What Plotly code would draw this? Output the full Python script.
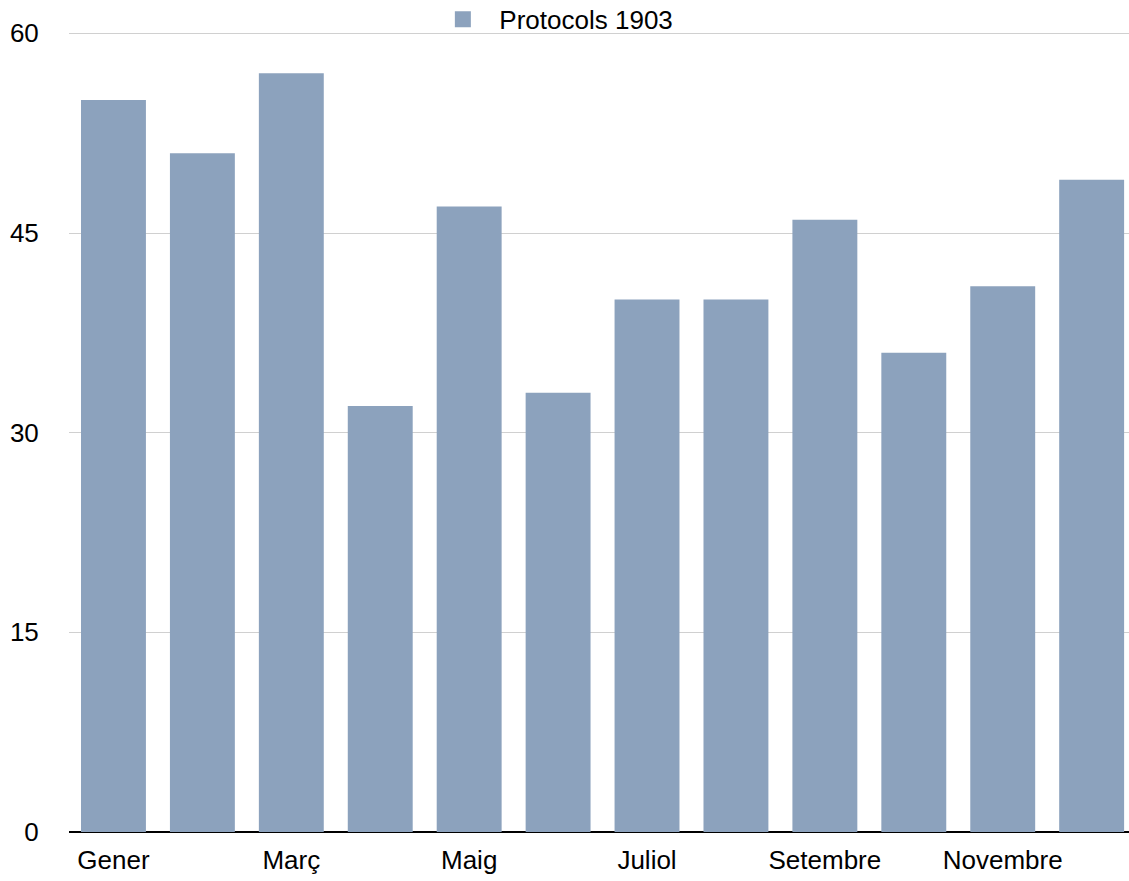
import plotly.graph_objects as go

months = ["Gener", "Febrer", "Març", "Abril", "Maig", "Juny", "Juliol",
          "Agost", "Setembre", "Octubre", "Novembre", "Desembre"]
values = [55, 51, 57, 32, 47, 33, 40, 40, 46, 36, 41, 49]
series_name = "Protocols 1903"
tick_months = ["Gener", "Març", "Maig", "Juliol", "Setembre", "Novembre"]
y_ticks = [0, 15, 30, 45, 60]
bar_color = "#8CA2BD"

fig = go.Figure()
fig.add_trace(go.Bar(
    x=months, y=values, name=series_name, showlegend=False,
    marker=dict(color=bar_color, line=dict(width=0)),
))
# legend entry with a larger square swatch
fig.add_trace(go.Scatter(
    x=[None], y=[None], mode="markers", name=series_name,
    marker=dict(symbol="square", size=17, color=bar_color),
))

font = dict(family="Liberation Sans, Arial, Helvetica, sans-serif", size=26, color="#000000")

fig.update_layout(
    width=1129, height=881,
    margin=dict(l=69, r=0, t=32, b=49, autoexpand=False),
    paper_bgcolor="white", plot_bgcolor="white",
    font=font,
    bargap=0.27,
    showlegend=True,
    legend=dict(orientation="h", x=0.456, xanchor="center", y=1.0158, yanchor="middle",
                font=font, bgcolor="rgba(0,0,0,0)", itemwidth=63),
    xaxis=dict(
        type="category", categoryorder="array", categoryarray=months,
        range=[-0.5, 11.42],
        tickmode="array", tickvals=tick_months, ticktext=tick_months,
        ticks="outside", ticklen=5, tickcolor="rgba(0,0,0,0)",
        showgrid=False, showline=False, zeroline=False,
        tickfont=font,
    ),
    yaxis=dict(
        range=[0, 60.1], tickmode="array", tickvals=y_ticks,
        showgrid=True, gridcolor="#D0D0D0", gridwidth=1,
        zeroline=True, zerolinecolor="#000000", zerolinewidth=2,
        showline=False,
        ticks="outside", ticklen=24, tickcolor="rgba(0,0,0,0)",
        tickfont=font,
    ),
)

fig.write_html("out.html", config={"displayModeBar": False},
               post_script="document.body.style.margin='0';document.body.style.overflow='hidden';")
